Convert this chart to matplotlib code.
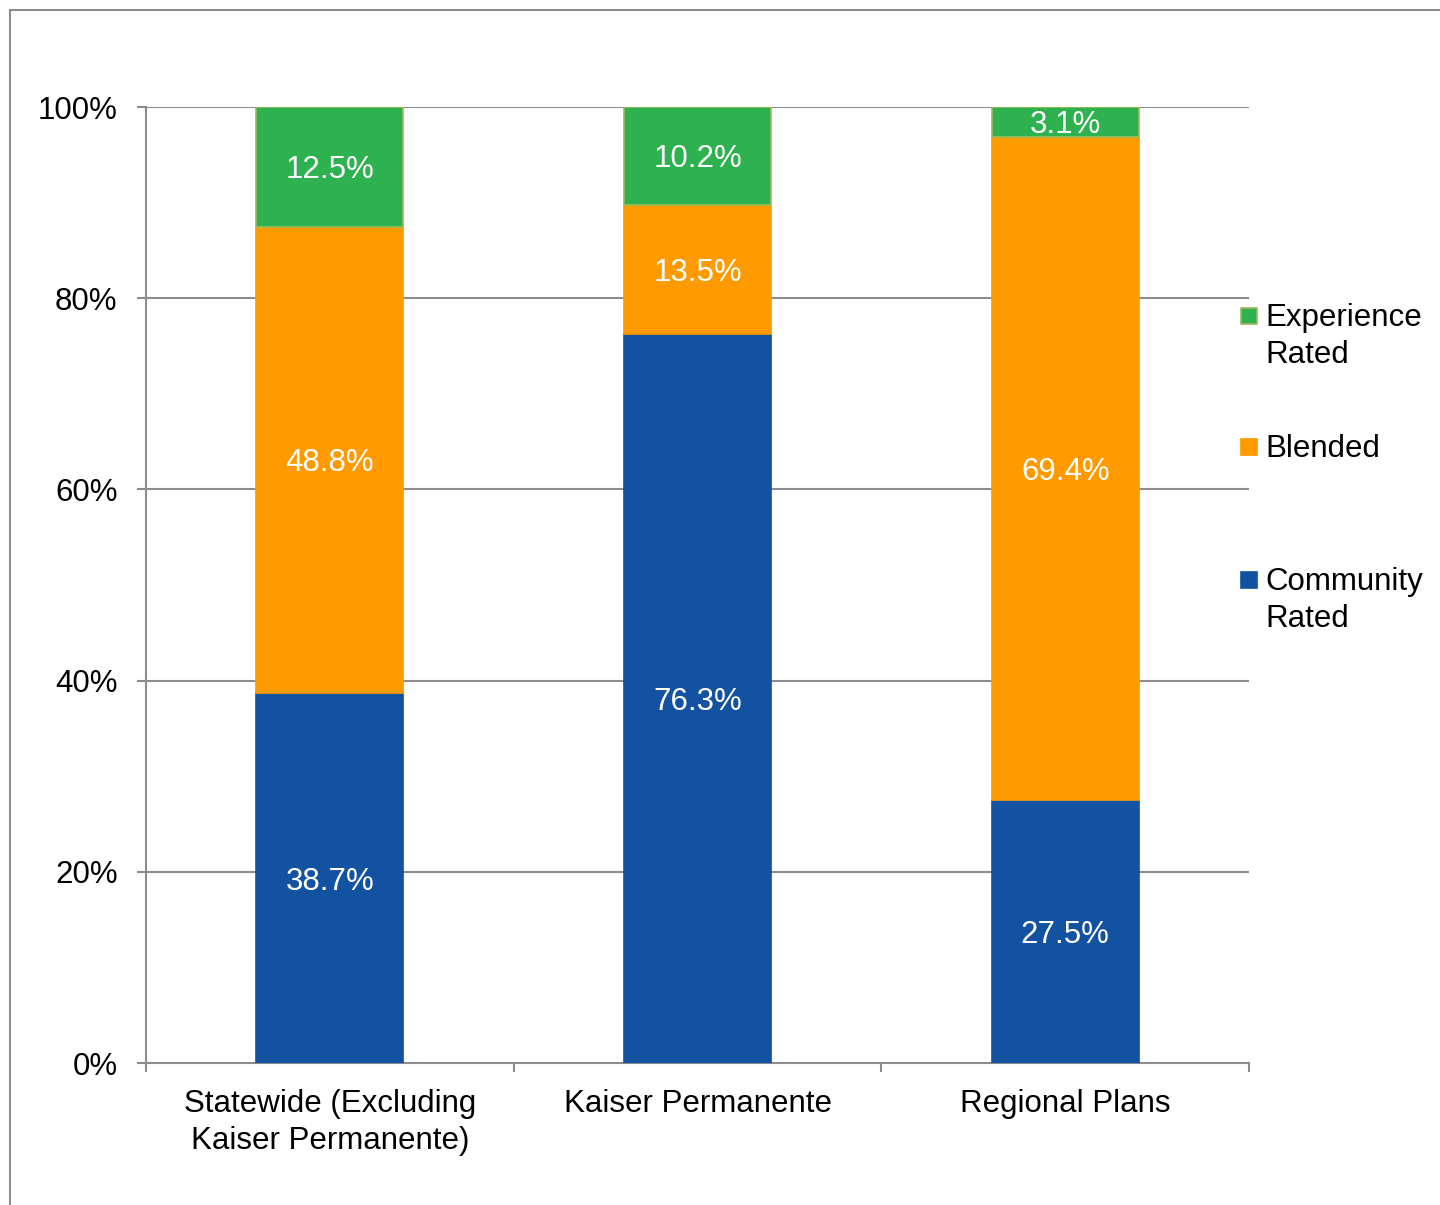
import numpy as np
import matplotlib.pyplot as plt
from matplotlib.patches import Rectangle

plt.rcParams['font.family'] = ['Liberation Sans', 'DejaVu Sans']

categories = ['Statewide (Excluding\nKaiser Permanente)', 'Kaiser Permanente', 'Regional Plans']
community = [38.7, 76.3, 27.5]
blended = [48.8, 13.5, 69.4]
experience = [12.5, 10.2, 3.1]
series_names = ['Community\nRated', 'Blended', 'Experience\nRated']
colors = ['#1352A0', '#FF9A00', '#2EB24F']
grid_color = '#8C8C8C'
fs = 22.5

fig = plt.figure(figsize=(14.4, 12.05), dpi=100)
ax = fig.add_axes([0.1014, 0.1178, 0.766, 0.7934])

# outer frame (cut off at right / bottom like the original)
fig.add_artist(Rectangle((10 / 1440, -0.1), 1.2, 1 - 10 / 1205 + 0.1,
                         transform=fig.transFigure, fill=False,
                         edgecolor='#8C8C8C', linewidth=1.5))

x = np.arange(len(categories))
series = [community, blended, experience]
bottom = np.zeros(len(categories))
for vals, c, name in zip(series, colors, series_names):
    vals = np.array(vals)
    ec = '#9BBB59' if name.startswith('Experience') else c
    ax.bar(x, vals, 0.4, bottom=bottom, color=c, edgecolor=ec, linewidth=1.2, zorder=3)
    for xi, b, v in zip(x, bottom, vals):
        ax.text(xi, b + v / 2, f'{v:.1f}%', ha='center', va='center_baseline',
                color='white', fontsize=fs, zorder=4)
    bottom += vals

ax.set_xlim(-0.5, 2.5)
ax.set_ylim(0, 100)
ax.set_yticks(np.arange(0, 101, 20))
ax.set_yticklabels([f'{t}%' for t in range(0, 101, 20)], fontsize=fs)
ax.yaxis.grid(True, color=grid_color, linewidth=1.5, zorder=0)
ax.set_axisbelow(True)

ax.set_xticks([-0.5, 0.5, 1.5, 2.5])
ax.set_xticklabels([])
ax.set_xticks(x, minor=True)
ax.set_xticklabels(categories, minor=True, fontsize=fs, linespacing=1.3)
ax.tick_params(axis='x', which='minor', length=0, pad=18.5)
ax.tick_params(axis='x', which='major', length=6.5, width=1.5, color=grid_color)
ax.tick_params(axis='y', length=6.5, width=1.5, color=grid_color, pad=14)

for s in ['top', 'right']:
    ax.spines[s].set_visible(False)
for s in ['left', 'bottom']:
    ax.spines[s].set_color(grid_color)
    ax.spines[s].set_linewidth(1.5)

# legend, top to bottom: experience, blended, community
leg_y = [1 - 316 / 1205, 1 - 447 / 1205, 1 - 580 / 1205]
for name, c, ly in zip(series_names[::-1], colors[::-1], leg_y):
    ec = '#9BBB59' if name.startswith('Experience') else c
    fig.add_artist(Rectangle((1241 / 1440, ly - 8 / 1205), 16 / 1440, 16 / 1205,
                             transform=fig.transFigure, facecolor=c,
                             edgecolor=ec, linewidth=1.2))
    fig.text(1265 / 1440, ly + 13 / 1205, name, ha='left', va='top',
             fontsize=fs, linespacing=1.3)

fig.savefig('out.png', dpi=100)
